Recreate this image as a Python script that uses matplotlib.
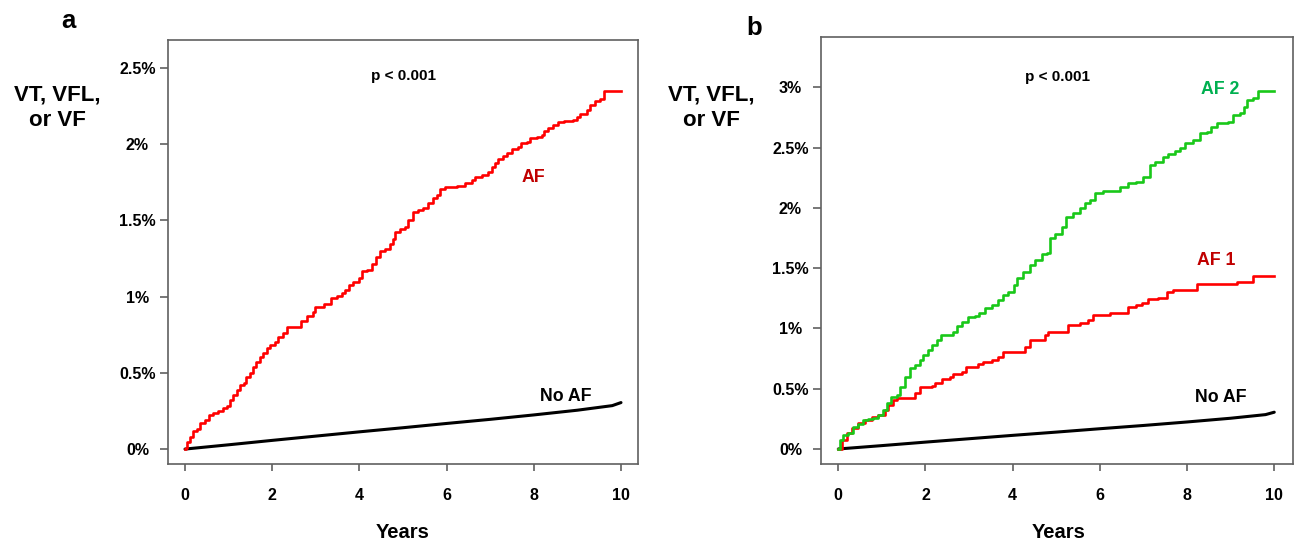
import matplotlib
matplotlib.use("Agg")
import matplotlib.pyplot as plt

# ---------------- data ----------------
# Panel a: cumulative incidence (%) vs years
a_af_years = [0, 0.02, 0.05, 0.11, 0.19, 0.27, 0.34, 0.46, 0.54, 0.65, 0.76, 0.88, 0.97, 1.03,
              1.11, 1.2, 1.25, 1.35, 1.41, 1.49, 1.55, 1.62, 1.72, 1.79, 1.88, 1.95, 2.06, 2.14,
              2.25, 2.33, 2.56, 2.65, 2.79, 2.94, 2.98, 3.14, 3.19, 3.29, 3.36, 3.48, 3.59, 3.67,
              3.75, 3.86, 3.98, 4.05, 4.17, 4.28, 4.38, 4.47, 4.59, 4.7, 4.78, 4.82, 4.93, 5.04,
              5.12, 5.24, 5.35, 5.46, 5.58, 5.69, 5.77, 5.86, 5.96, 6.08, 6.23, 6.42, 6.58, 6.65,
              6.81, 6.94, 7.03, 7.11, 7.18, 7.3, 7.38, 7.49, 7.64, 7.7, 7.84, 7.91, 8.07, 8.18,
              8.23, 8.33, 8.45, 8.56, 8.69, 8.91, 8.98, 9.07, 9.21, 9.3, 9.4, 9.51, 9.6, 10.0]
a_af_vals = [0, 0.005, 0.048, 0.081, 0.12, 0.129, 0.173, 0.19, 0.221, 0.234, 0.247, 0.267, 0.282,
             0.321, 0.356, 0.387, 0.422, 0.431, 0.475, 0.501, 0.541, 0.573, 0.606, 0.628, 0.661,
             0.683, 0.705, 0.737, 0.763, 0.798, 0.803, 0.842, 0.873, 0.901, 0.929, 0.933, 0.949,
             0.955, 0.988, 1.003, 1.021, 1.042, 1.075, 1.097, 1.125, 1.167, 1.177, 1.217, 1.26,
             1.297, 1.315, 1.348, 1.38, 1.424, 1.446, 1.459, 1.503, 1.557, 1.568, 1.579, 1.616,
             1.645, 1.667, 1.704, 1.717, 1.721, 1.728, 1.743, 1.765, 1.787, 1.798, 1.819, 1.848,
             1.874, 1.902, 1.922, 1.944, 1.972, 1.983, 2.005, 2.016, 2.038, 2.049, 2.06, 2.086,
             2.108, 2.125, 2.145, 2.154, 2.162, 2.18, 2.197, 2.223, 2.256, 2.285, 2.30, 2.35, 2.35]

noaf_years = [0, 1, 2, 3, 4, 5, 6, 7, 8, 9, 9.8, 10]
noaf_vals = [0, 0.028, 0.057, 0.085, 0.113, 0.14, 0.168, 0.195, 0.224, 0.255, 0.285, 0.305]

# Panel b
b_af2_years = [0, 0.04, 0.11, 0.23, 0.34, 0.46, 0.57, 0.69, 0.8, 0.92, 1.03, 1.11, 1.22, 1.34,
               1.42, 1.53, 1.64, 1.76, 1.87, 1.95, 2.06, 2.14, 2.26, 2.36, 2.56, 2.64, 2.72, 2.83,
               2.98, 3.14, 3.23, 3.36, 3.52, 3.67, 3.78, 3.9, 4.04, 4.11, 4.24, 4.4, 4.51, 4.67,
               4.78, 4.86, 4.97, 5.12, 5.22, 5.39, 5.54, 5.66, 5.77, 5.89, 6.08, 6.42, 6.46, 6.65,
               6.84, 7.0, 7.15, 7.26, 7.45, 7.57, 7.72, 7.84, 7.95, 8.14, 8.3, 8.45, 8.56, 8.68,
               8.94, 9.05, 9.21, 9.31, 9.37, 9.52, 9.63, 10.0]
b_af2_vals = [0.0, 0.075, 0.116, 0.13, 0.185, 0.207, 0.24, 0.246, 0.254, 0.282, 0.323, 0.379,
              0.434, 0.448, 0.517, 0.6, 0.669, 0.697, 0.738, 0.779, 0.821, 0.862, 0.904, 0.945,
              0.945, 0.973, 1.02, 1.056, 1.092, 1.103, 1.13, 1.166, 1.194, 1.235, 1.277, 1.304,
              1.36, 1.415, 1.47, 1.526, 1.567, 1.617, 1.628, 1.747, 1.783, 1.843, 1.926, 1.954,
              1.996, 2.037, 2.065, 2.12, 2.142, 2.142, 2.17, 2.208, 2.216, 2.258, 2.355, 2.383,
              2.424, 2.446, 2.474, 2.493, 2.535, 2.562, 2.618, 2.631, 2.672, 2.706, 2.714, 2.769,
              2.789, 2.838, 2.894, 2.908, 2.971, 2.971]

b_af1_years = [0, 0.08, 0.19, 0.31, 0.46, 0.61, 0.77, 0.92, 1.07, 1.15, 1.26, 1.34, 1.68, 1.76,
               1.87, 2.14, 2.22, 2.37, 2.56, 2.64, 2.83, 2.94, 3.21, 3.33, 3.52, 3.67, 3.78, 4.24,
               4.28, 4.4, 4.67, 4.74, 4.82, 5.12, 5.28, 5.54, 5.73, 5.85, 6.23, 6.65, 6.84, 6.96,
               7.11, 7.34, 7.53, 7.68, 8.22, 9.14, 9.52, 10.0]
b_af1_vals = [0.0, 0.075, 0.13, 0.171, 0.213, 0.24, 0.268, 0.282, 0.323, 0.365, 0.406, 0.42,
              0.42, 0.462, 0.517, 0.522, 0.545, 0.578, 0.6, 0.622, 0.641, 0.682, 0.705, 0.724,
              0.738, 0.765, 0.807, 0.807, 0.843, 0.904, 0.904, 0.945, 0.973, 0.973, 1.028, 1.042,
              1.07, 1.111, 1.13, 1.175, 1.194, 1.213, 1.241, 1.25, 1.299, 1.318, 1.368, 1.387,
              1.437, 1.437]

x_ticks = [0, 2, 4, 6, 8, 10]
x_ticklabels = ["0", "2", "4", "6", "8", "10"]
a_yticks = [0, 0.5, 1, 1.5, 2, 2.5]
a_yticklabels = ["0%", "0.5%", "1%", "1.5%", "2%", "2.5%"]
b_yticks = [0, 0.5, 1, 1.5, 2, 2.5, 3]
b_yticklabels = ["0%", "0.5%", "1%", "1.5%", "2%", "2.5%", "3%"]

# ---------------- style ----------------
FONT = ["Liberation Sans", "Arial", "DejaVu Sans"]
plt.rcParams["font.family"] = FONT
RED = "#FF0000"
GREEN = "#19C819"
LBL_RED = "#C00000"
LBL_GREEN = "#00B050"
SPINE = "#606060"

W, H = 1298, 543
fig = plt.figure(figsize=(W / 100, H / 100), dpi=100)


def px_axes(l, t, r, b):
    return [l / W, 1 - b / H, (r - l) / W, (b - t) / H]


def style(ax, yticks, yticklabels):
    for s in ax.spines.values():
        s.set_color(SPINE)
        s.set_linewidth(1.2)
    ax.set_xticks(x_ticks)
    ax.set_xticklabels(x_ticklabels, fontsize=11.5, fontweight="bold")
    ax.set_yticks(yticks)
    ax.set_yticklabels(yticklabels, fontsize=11.5, fontweight="bold", ha="center")
    ax.tick_params(axis="y", length=6, width=1.2, color=SPINE, pad=16)
    ax.tick_params(axis="x", length=5, width=1.2, color=SPINE, pad=12)


# Panel a
axa = fig.add_axes(px_axes(168, 40, 638, 464))
axa.plot(noaf_years, noaf_vals, color="black", lw=2.2, solid_capstyle="round")
axa.plot(a_af_years, a_af_vals, color=RED, lw=1.9, drawstyle="steps-post")
axa.set_xlim(-0.39, 10.39)
axa.set_ylim(-0.098, 2.684)
style(axa, a_yticks, a_yticklabels)
axa.text(5.02, 2.447, "p < 0.001", fontsize=11, fontweight="bold", ha="center", va="center")
axa.text(8.0, 1.785, "AF", fontsize=12.8, fontweight="bold", color=LBL_RED, ha="center", va="center")
axa.text(8.74, 0.348, "No AF", fontsize=12.8, fontweight="bold", color="black", ha="center", va="center")

# Panel b
axb = fig.add_axes(px_axes(821, 37.3, 1293, 464.3))
axb.plot(noaf_years, noaf_vals, color="black", lw=2.2, solid_capstyle="round")
axb.plot(b_af1_years, b_af1_vals, color=RED, lw=1.9, drawstyle="steps-post")
axb.plot(b_af2_years, b_af2_vals, color=GREEN, lw=1.9, drawstyle="steps-post")
axb.set_xlim(-0.397, 10.43)
axb.set_ylim(-0.127, 3.414)
style(axb, b_yticks, b_yticklabels)
axb.text(5.02, 3.087, "p < 0.001", fontsize=11, fontweight="bold", ha="center", va="center")
axb.text(8.75, 2.985, "AF 2", fontsize=12.8, fontweight="bold", color=LBL_GREEN, ha="center", va="center")
axb.text(8.67, 1.561, "AF 1", fontsize=12.8, fontweight="bold", color=LBL_RED, ha="center", va="center")
axb.text(8.78, 0.427, "No AF", fontsize=12.8, fontweight="bold", color="black", ha="center", va="center")


def ftext(x, y, s, **kw):
    fig.text(x / W, 1 - y / H, s, **kw)


ftext(57, 108, "VT, VFL,\nor VF", fontsize=16, fontweight="bold", ha="center", va="center",
      linespacing=1.25)
ftext(711, 108, "VT, VFL,\nor VF", fontsize=16, fontweight="bold", ha="center", va="center",
      linespacing=1.25)
ftext(403, 532, "Years", fontsize=14.5, fontweight="bold", ha="center", va="center")
ftext(1059, 532, "Years", fontsize=14.5, fontweight="bold", ha="center", va="center")
ftext(68, 21, "a", fontsize=18.5, fontweight="bold", ha="center", va="center")
ftext(754, 28, "b", fontsize=18.5, fontweight="bold", ha="center", va="center")

fig.savefig("out.png", dpi=100)
